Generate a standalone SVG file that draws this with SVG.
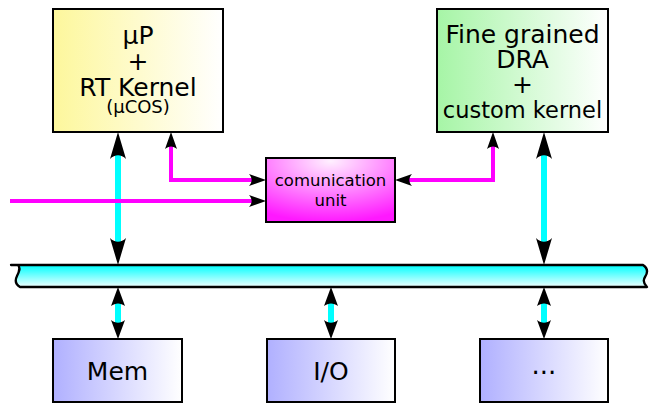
<svg xmlns="http://www.w3.org/2000/svg" width="652" height="404" viewBox="0 0 652 404">
<defs>
  <linearGradient id="gY" x1="0" y1="0" x2="1" y2="0"><stop offset="0" stop-color="#fdf79c"/><stop offset="1" stop-color="#ffffff"/></linearGradient>
  <linearGradient id="gG" x1="0" y1="0" x2="1" y2="0"><stop offset="0" stop-color="#a6f5a6"/><stop offset="1" stop-color="#ffffff"/></linearGradient>
  <linearGradient id="gP" x1="0" y1="0" x2="1" y2="0"><stop offset="0" stop-color="#b0b0ff"/><stop offset="1" stop-color="#ffffff"/></linearGradient>
  <linearGradient id="gBus" x1="0" y1="0" x2="0" y2="1"><stop offset="0" stop-color="#00ffff"/><stop offset="1" stop-color="#f0ffff"/></linearGradient>
  <radialGradient id="gC" cx="0.5" cy="0.05" r="0.95"><stop offset="0" stop-color="#fff0ff"/><stop offset="1" stop-color="#ff18ff"/></radialGradient>
  <marker id="aBig" markerUnits="userSpaceOnUse" orient="auto-start-reverse" markerWidth="40" markerHeight="40" viewBox="-20 -20 40 40" refX="0" refY="0" overflow="visible">
    <path d="M12,0 L-15,-8 C-10,-3 -10,3 -15,8 Z" fill="#000"/>
  </marker>
  <marker id="aMid" markerUnits="userSpaceOnUse" orient="auto-start-reverse" markerWidth="40" markerHeight="40" viewBox="-20 -20 40 40" refX="0" refY="0" overflow="visible">
    <path d="M10,0 L-9,-7 C-5.5,-2.5 -5.5,2.5 -9,7 Z" fill="#000"/>
  </marker>
  <marker id="aSm" markerUnits="userSpaceOnUse" orient="auto-start-reverse" markerWidth="30" markerHeight="30" viewBox="-15 -15 30 30" refX="0" refY="0" overflow="visible">
    <path d="M8,0 L-9,-6 C-5.5,-2.2 -5.5,2.2 -9,6 Z" fill="#000"/>
  </marker>
</defs>
<style>
  .box{stroke:#000;stroke-width:2}
  text{font-family:"DejaVu Sans",sans-serif;fill:#000;text-anchor:middle}
  .big{font-size:25px}
  .cy{stroke:#00ffff;stroke-width:6;fill:none}
  .mg{stroke:#ff00ff;stroke-width:4;fill:none;stroke-linejoin:miter}
</style>
<rect width="652" height="404" fill="#fff"/>

<g id="up">
  <rect class="box" x="53" y="9" width="170" height="123" fill="url(#gY)"/>
  <text class="big" x="138" y="44">µP</text>
  <text class="big" x="138" y="70">+</text>
  <text class="big" x="138" y="95.5">RT Kernel</text>
  <text x="138" y="112.5" font-size="18">(µCOS)</text>
</g>

<g id="dra">
  <rect class="box" x="437" y="9" width="171" height="123" fill="url(#gG)"/>
  <text class="big" x="522.5" y="43.3">Fine grained</text>
  <text class="big" x="522.5" y="68.3">DRA</text>
  <text class="big" x="522.5" y="93.3">+</text>
  <text x="522.5" y="118.3" font-size="22.5">custom kernel</text>
</g>

<g id="comm">
  <rect class="box" x="266" y="158" width="129" height="64" fill="url(#gC)"/>
  <text x="330.5" y="186" font-size="16.5">comunication</text>
  <text x="330.5" y="206" font-size="16.5">unit</text>
</g>

<g id="bus">
  <path d="M11,265 L643,265 C649,269 647,274 645,277 C643,280 644,284 647,287 L20,287 C15,284 15,280 17,276 C19,272 21,268 18,265 Z" fill="url(#gBus)" stroke="#000" stroke-width="2.3" stroke-linejoin="round"/>
</g>

<g id="mem">
  <rect class="box" x="53" y="339" width="129" height="63" fill="url(#gP)"/>
  <text class="big" x="117.5" y="380">Mem</text>
</g>
<g id="io">
  <rect class="box" x="267" y="339" width="128" height="63" fill="url(#gP)"/>
  <text class="big" x="331" y="380">I/O</text>
</g>
<g id="etc">
  <rect class="box" x="480" y="339" width="128" height="63" fill="url(#gP)"/>
  <text x="544" y="374" font-size="26">...</text>
</g>

<g id="connectors">
  <path class="cy" d="M118,144 V253" marker-start="url(#aBig)" marker-end="url(#aBig)"/>
  <path class="cy" d="M544,144 V253" marker-start="url(#aBig)" marker-end="url(#aBig)"/>
  <path class="cy" d="M118,297 V329" marker-start="url(#aMid)" marker-end="url(#aMid)"/>
  <path class="cy" d="M331,297 V329" marker-start="url(#aMid)" marker-end="url(#aMid)"/>
  <path class="cy" d="M544,297 V329" marker-start="url(#aMid)" marker-end="url(#aMid)"/>
  <path class="mg" d="M10,201 H258" marker-end="url(#aSm)"/>
  <path class="mg" d="M171,140 V180 H258" marker-start="url(#aSm)" marker-end="url(#aSm)"/>
  <path class="mg" d="M403,180 H493 V140" marker-start="url(#aSm)" marker-end="url(#aSm)"/>
</g>
</svg>
